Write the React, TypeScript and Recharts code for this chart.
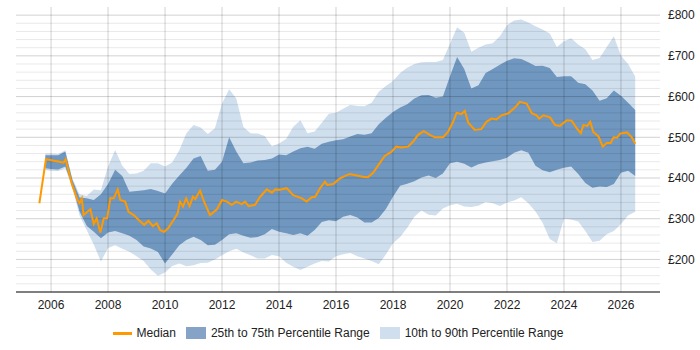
import React from "react";
import {
  ComposedChart,
  Area,
  Line,
  XAxis,
  YAxis,
  ReferenceLine,
  Legend,
} from "recharts";

// quarterly sample dates (decimal years) for the percentile bands
const years = [
  2005.6, 2005.8, 2006.0, 2006.25, 2006.5, 2006.75, 2007.0, 2007.25, 2007.5, 2007.75,
  2008.0, 2008.25, 2008.5, 2008.75, 2009.0, 2009.25, 2009.5, 2009.75, 2010.0, 2010.25,
  2010.5, 2010.75, 2011.0, 2011.25, 2011.5, 2011.75, 2012.0, 2012.25, 2012.5, 2012.75,
  2013.0, 2013.25, 2013.5, 2013.75, 2014.0, 2014.25, 2014.5, 2014.75, 2015.0, 2015.25,
  2015.5, 2015.75, 2016.0, 2016.25, 2016.5, 2016.75, 2017.0, 2017.25, 2017.5, 2017.75,
  2018.0, 2018.25, 2018.5, 2018.75, 2019.0, 2019.25, 2019.5, 2019.75, 2020.0, 2020.25,
  2020.5, 2020.75, 2021.0, 2021.25, 2021.5, 2021.75, 2022.0, 2022.25, 2022.5, 2022.75,
  2023.0, 2023.25, 2023.5, 2023.75, 2024.0, 2024.25, 2024.5, 2024.75, 2025.0, 2025.25,
  2025.5, 2025.75, 2026.0, 2026.25, 2026.5,
];

const p25 = [
  null, 424, 422, 421, 428, 379, 318, 283, 268, 252,
  266, 270, 264, 258, 248, 232, 227, 218, 190, 212,
  235, 248, 256, 248, 235, 236, 248, 262, 264, 258,
  253, 255, 262, 275, 268, 264, 260, 264, 258, 272,
  292, 296, 294, 305, 309, 303, 291, 291, 302, 324,
  354, 381, 386, 392, 401, 406, 400, 411, 436, 440,
  435, 426, 434, 438, 441, 444, 450, 462, 468, 462,
  430, 419, 414, 420, 425, 428, 410, 388, 376, 379,
  378, 385, 413, 418, 405,
];

const p75 = [
  null, 456, 456, 456, 465, 395, 352, 350, 346, 360,
  385, 420, 405, 366, 368, 370, 373, 368, 362, 386,
  406, 425, 448, 454, 418, 420, 440, 500, 465, 436,
  438, 443, 444, 448, 458, 456, 465, 473, 477, 472,
  484, 489, 493, 495, 502, 508, 506, 510, 532, 548,
  562, 573, 581, 595, 603, 604, 597, 600, 650, 697,
  668, 620, 628, 658, 668, 678, 688, 694, 692, 684,
  675, 676, 670, 648, 650, 650, 634, 630, 615, 590,
  596, 615, 602, 585, 567,
];

const p10 = [
  null, 420, 418, 417, 424, 375, 308, 272, 236, 195,
  228, 235, 226, 219, 208, 196, 175, 160, 168, 184,
  190, 183, 186, 191, 192, 200, 210, 220, 226, 217,
  210, 202, 202, 211, 208, 192, 182, 174, 182, 190,
  196, 195, 208, 213, 216, 208, 202, 196, 188, 212,
  240, 255, 278, 305, 320, 310, 308, 325, 333, 337,
  330, 329, 332, 341, 338, 331, 340, 345, 353, 338,
  318, 290, 250, 240, 300, 298, 293, 270, 243, 246,
  262, 270, 287, 308, 317,
];

const p90 = [
  null, 460, 460, 459, 468, 399, 360, 356, 372, 370,
  428, 469, 430, 410, 411, 418, 436, 436, 428, 438,
  468, 510, 530, 524, 508, 522, 583, 618, 595, 525,
  510, 509, 503, 478, 485, 496, 526, 542, 510, 514,
  536, 558, 560, 570, 579, 577, 576, 585, 612, 626,
  638, 658, 671, 680, 684, 685, 685, 690, 730, 770,
  757, 710, 720, 728, 731, 748, 775, 787, 789, 782,
  773, 765, 755, 722, 736, 743, 728, 716, 690, 695,
  722, 748, 700, 680, 649,
];

// the median is sampled more finely than the bands
const medianYears = [
  2005.59, 2005.82, 2006.44, 2006.51, 2006.74, 2006.93, 2007.0, 2007.08, 2007.14, 2007.38,
  2007.5, 2007.6, 2007.73, 2007.85, 2007.97, 2008.08, 2008.2, 2008.34, 2008.43, 2008.6,
  2008.72, 2008.9, 2009.13, 2009.27, 2009.42, 2009.57, 2009.71, 2009.83, 2009.97, 2010.1,
  2010.3, 2010.44, 2010.53, 2010.63, 2010.74, 2010.86, 2010.98, 2011.06, 2011.23, 2011.37,
  2011.58, 2011.82, 2012.0, 2012.17, 2012.34, 2012.5, 2012.69, 2012.81, 2012.93, 2013.16,
  2013.34, 2013.57, 2013.75, 2013.87, 2014.04, 2014.27, 2014.5, 2014.8, 2014.97, 2015.15,
  2015.27, 2015.44, 2015.61, 2015.69, 2015.9, 2016.14, 2016.48, 2016.94, 2017.12, 2017.3,
  2017.53, 2017.71, 2017.94, 2018.12, 2018.29, 2018.53, 2018.7, 2018.88, 2019.08, 2019.29,
  2019.47, 2019.76, 2019.93, 2020.11, 2020.23, 2020.4, 2020.52, 2020.64, 2020.87, 2021.1,
  2021.28, 2021.46, 2021.63, 2021.81, 2022.05, 2022.28, 2022.45, 2022.69, 2022.87, 2023.04,
  2023.13, 2023.28, 2023.51, 2023.69, 2023.86, 2024.1, 2024.27, 2024.45, 2024.59, 2024.68,
  2024.82, 2024.92, 2025.03, 2025.21, 2025.36, 2025.5, 2025.64, 2025.74, 2025.86, 2025.97,
  2026.21, 2026.38, 2026.5,
];

const medianValues = [
  338, 446, 438, 446, 383, 346, 338, 350, 309, 323,
  287, 301, 266, 301, 301, 350, 350, 372, 346, 342,
  317, 309, 293, 285, 295, 282, 289, 272, 268, 276,
  297, 313, 342, 330, 350, 331, 354, 348, 369, 342,
  309, 323, 346, 342, 334, 342, 336, 342, 331, 334,
  354, 372, 364, 372, 371, 375, 358, 350, 342, 353,
  354, 375, 391, 383, 385, 399, 410, 403, 402, 413,
  436, 454, 464, 477, 475, 477, 489, 506, 515, 506,
  500, 500, 513, 538, 560, 557, 565, 536, 518, 520,
  538, 546, 544, 554, 559, 573, 587, 583, 559, 554,
  546, 554, 549, 530, 528, 542, 541, 522, 510, 530,
  528, 538, 513, 502, 477, 486, 486, 500, 499, 509,
  512, 500, 484,
];

const yearTicks = [2006, 2008, 2010, 2012, 2014, 2016, 2018, 2020, 2022, 2024, 2026];
const priceTicks = [200, 300, 400, 500, 600, 700, 800];
const minorTicks = [
  140, 160, 180, 220, 240, 260, 280, 320, 340, 360, 380, 420, 440, 460, 480,
  520, 540, 560, 580, 620, 640, 660, 680, 720, 740, 760, 780,
];

const bandRows = years.map((year, i) => ({
  year,
  inner: p25[i] == null ? null : [p25[i], p75[i]],
  outer: p10[i] == null ? null : [p10[i], p90[i]],
}));

const medianRows = medianYears.map((year, i) => ({ year, median: medianValues[i] }));

const FONT = "Arial, 'Liberation Sans', sans-serif";
const ORANGE = "#ff9900";
const DARK = "#7097bf";
const LIGHT = "#d0dfee";

function LegendBox() {
  const item = { display: "flex", alignItems: "center", marginRight: 10 };
  return (
    <div
      style={{
        display: "flex",
        justifyContent: "center",
        alignItems: "center",
        boxSizing: "border-box",
        height: 28,
        paddingBottom: 6,
        paddingRight: 30,
        fontFamily: FONT,
        fontSize: 12,
        color: "#222",
      }}
    >
      <div style={item}>
        <span style={{ width: 19, height: 3, background: ORANGE, marginRight: 5 }} />
        Median
      </div>
      <div style={item}>
        <span style={{ width: 20, height: 12, background: "#84a3c6", marginRight: 5 }} />
        25th to 75th Percentile Range
      </div>
      <div style={item}>
        <span style={{ width: 20, height: 12, background: LIGHT, marginRight: 5 }} />
        10th to 90th Percentile Range
      </div>
    </div>
  );
}

export default function App() {
  return (
    <div style={{ position: "absolute", left: 0, top: 0, width: 700, height: 350, background: "#fff" }}>
      <ComposedChart
        width={700}
        height={350}
        data={bandRows}
        margin={{ top: 7, right: 0, bottom: 0, left: 16 }}
      >
        <XAxis
          dataKey="year"
          type="number"
          domain={[2004.77, 2027.37]}
          ticks={yearTicks}
          tickLine={false}
          axisLine={{ stroke: "#000" }}
          tick={{ fill: "#222", fontSize: 12, fontFamily: FONT }}
          height={30}
          allowDataOverflow
        />
        <YAxis
          orientation="right"
          type="number"
          domain={[120, 820]}
          ticks={priceTicks}
          tickFormatter={(v) => `£${v}`}
          axisLine={false}
          tickLine={false}
          tick={{ fill: "#222", fontSize: 12, fontFamily: FONT, textAnchor: "start" }}
          width={40}
          allowDataOverflow
        />
        <Area
          dataKey="outer"
          stroke="none"
          fill={LIGHT}
          fillOpacity={1}
          isAnimationActive={false}
          activeDot={false}
        />
        <Area
          dataKey="inner"
          stroke="none"
          fill={DARK}
          fillOpacity={1}
          isAnimationActive={false}
          activeDot={false}
        />
        {/* grid drawn over the bands, faint enough to show through */}
        {minorTicks.map((v) => (
          <ReferenceLine key={`m${v}`} y={v} stroke="rgba(0,0,0,0.09)" />
        ))}
        {priceTicks.map((v) => (
          <ReferenceLine key={`p${v}`} y={v} stroke="rgba(0,0,0,0.18)" />
        ))}
        {yearTicks.map((v) => (
          <ReferenceLine key={`y${v}`} x={v} stroke="rgba(0,0,0,0.18)" />
        ))}
        <Line
          data={medianRows}
          dataKey="median"
          stroke={ORANGE}
          strokeWidth={2}
          dot={false}
          isAnimationActive={false}
        />
        <Legend verticalAlign="bottom" content={() => <LegendBox />} />
      </ComposedChart>
    </div>
  );
}
